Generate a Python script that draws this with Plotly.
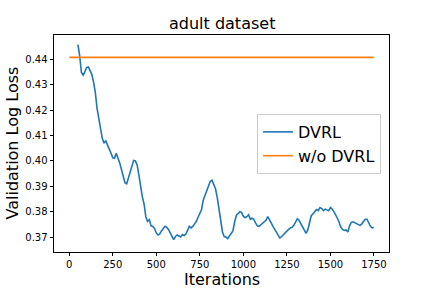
import plotly.graph_objects as go

# DVRL validation log loss, read every 10 iterations
dvrl_iters = list(range(50, 1741, 10)) + [1749]
dvrl_loss = [
    0.4458, 0.4415, 0.4348, 0.4338, 0.4352, 0.4368, 0.4370, 0.4356, 0.4340, 0.4310,
    0.4268, 0.4206, 0.4160, 0.4118, 0.4088, 0.4070, 0.4080, 0.4062, 0.4048, 0.4030,
    0.4012, 0.4010, 0.4030, 0.4012, 0.3992, 0.3966, 0.3935, 0.3914, 0.3910, 0.3932,
    0.3958, 0.3982, 0.4002, 0.4000, 0.3984, 0.3944, 0.3895, 0.3858, 0.3830, 0.3780,
    0.3762, 0.3768, 0.3744, 0.3742, 0.3734, 0.3716, 0.3708, 0.3712, 0.3724, 0.3736,
    0.3742, 0.3738, 0.3730, 0.3716, 0.3700, 0.3690, 0.3702, 0.3708, 0.3704, 0.3700,
    0.3710, 0.3706, 0.3712, 0.3730, 0.3742, 0.3736, 0.3742, 0.3752, 0.3762, 0.3778,
    0.3792, 0.3808, 0.3846, 0.3866, 0.3880, 0.3900, 0.3920, 0.3924, 0.3908, 0.3890,
    0.3856, 0.3810, 0.3762, 0.3720, 0.3702, 0.3700, 0.3694, 0.3704, 0.3710, 0.3724,
    0.3760, 0.3786, 0.3792, 0.3800, 0.3796, 0.3782, 0.3776, 0.3780, 0.3788, 0.3770,
    0.3774, 0.3770, 0.3756, 0.3744, 0.3742, 0.3748, 0.3752, 0.3758, 0.3766, 0.3780,
    0.3770, 0.3756, 0.3742, 0.3730, 0.3718, 0.3708, 0.3696, 0.3702, 0.3710, 0.3718,
    0.3724, 0.3730, 0.3736, 0.3738, 0.3746, 0.3758, 0.3772, 0.3766, 0.3752, 0.3744,
    0.3726, 0.3714, 0.3728, 0.3762, 0.3784, 0.3792, 0.3800, 0.3808, 0.3804, 0.3816,
    0.3812, 0.3804, 0.3810, 0.3806, 0.3804, 0.3816, 0.3810, 0.3800, 0.3788, 0.3774,
    0.3758, 0.3738, 0.3730, 0.3726, 0.3728, 0.3720, 0.3744, 0.3758, 0.3760, 0.3756,
    0.3752, 0.3748, 0.3746, 0.3752, 0.3760, 0.3770, 0.3770, 0.3756, 0.3742, 0.3736,
    0.3738,
]

# Baseline without DVRL (constant)
base_iters = [0, 1749]
base_loss = [0.4408, 0.4408]

x_ticks = [0, 250, 500, 750, 1000, 1250, 1500, 1750]
y_ticks = [0.37, 0.38, 0.39, 0.40, 0.41, 0.42, 0.43, 0.44]

FONT = "DejaVu Sans"

fig = go.Figure()
fig.add_trace(go.Scatter(x=dvrl_iters, y=dvrl_loss, mode="lines", name="DVRL",
                         line=dict(color="#1f77b4", width=1.6)))
fig.add_trace(go.Scatter(x=base_iters, y=base_loss, mode="lines", name="w/o DVRL",
                         line=dict(color="#ff7f0e", width=1.6)))

axis_common = dict(showgrid=False, zeroline=False, showline=True, linecolor="black",
                   linewidth=0.8, mirror=True, ticks="outside", ticklen=3.5,
                   tickwidth=0.8, tickcolor="black",
                   tickfont=dict(family=FONT, size=10, color="black"))

fig.update_layout(
    width=432, height=288,
    margin=dict(l=54, r=43, t=35, b=36),
    paper_bgcolor="white", plot_bgcolor="white",
    font=dict(family=FONT, color="black"),
    showlegend=True,
    legend=dict(x=0.976, y=0.636, xanchor="right", yanchor="top",
                bgcolor="rgba(255,255,255,0.8)", bordercolor="#cccccc", borderwidth=1,
                font=dict(family=FONT, size=16, color="black"),
                tracegroupgap=0),
    xaxis=dict(range=[-87.45, 1836.45], tickvals=x_ticks, **axis_common),
    yaxis=dict(range=[0.3641, 0.4496], tickvals=y_ticks, tickformat=".2f", **axis_common),
    annotations=[
        dict(text="adult dataset", xref="paper", yref="paper", x=0.5, y=1,
             xanchor="center", yanchor="bottom", yshift=0, showarrow=False,
             font=dict(family=FONT, size=16, color="black")),
        dict(text="Iterations", xref="paper", yref="paper", x=0.5, y=0,
             xanchor="center", yanchor="top", yshift=-16, showarrow=False,
             font=dict(family=FONT, size=16, color="black")),
        dict(text="Validation Log Loss", xref="paper", yref="paper", x=0, y=0.5,
             xanchor="center", yanchor="middle", xshift=-42, textangle=-90,
             showarrow=False, font=dict(family=FONT, size=16, color="black")),
    ],
)

fig.write_html("out.html", config={"displayModeBar": False},
               post_script="document.body.style.margin='0';document.body.style.padding='0';")
